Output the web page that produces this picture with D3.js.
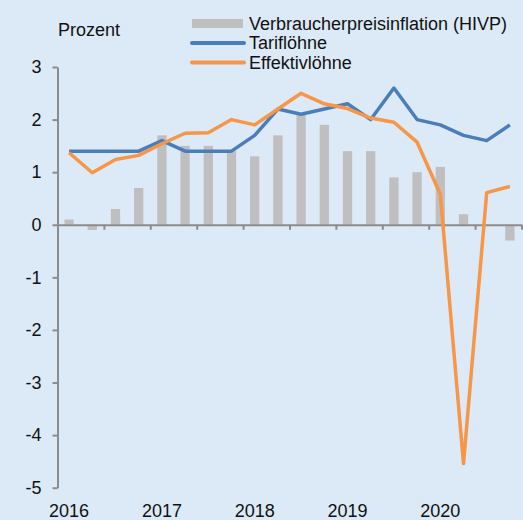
<!DOCTYPE html>
<html>
<head>
<meta charset="utf-8">
<script src="https://cdn.jsdelivr.net/npm/d3@7"></script>
<style>
  html, body { margin: 0; padding: 0; background: #dce9f7; }
  svg { display: block; font-family: "Liberation Sans", Arial, sans-serif; }
</style>
</head>
<body>
<div id="chart"></div>
<script>
// Quartale 2016 Q1 bis 2020 Q4
let quarters = ["2016Q1","2016Q2","2016Q3","2016Q4","2017Q1","2017Q2","2017Q3","2017Q4",
                "2018Q1","2018Q2","2018Q3","2018Q4","2019Q1","2019Q2","2019Q3","2019Q4",
                "2020Q1","2020Q2","2020Q3","2020Q4"]
let yearLabels = ["2016","2017","2018","2019","2020"]
let yTicks = [3, 2, 1, 0, -1, -2, -3, -4, -5]

let hivp = [0.1, -0.1, 0.3, 0.7, 1.7, 1.5, 1.5, 1.4, 1.3, 1.7, 2.1, 1.9,
            1.4, 1.4, 0.9, 1.0, 1.1, 0.2, 0.0, -0.3]
let tarif = [1.4, 1.4, 1.4, 1.4, 1.6, 1.4, 1.4, 1.4, 1.7, 2.2, 2.1, 2.2,
             2.3, 2.0, 2.6, 2.0, 1.9, 1.7, 1.6, 1.9]
let effektiv = [1.37, 0.99, 1.24, 1.32, 1.54, 1.74, 1.75, 2.0, 1.9, 2.2, 2.5, 2.3,
                2.21, 2.03, 1.95, 1.57, 0.58, -4.54, 0.61, 0.73]

let legendItems = [
  {name: "Verbraucherpreisinflation (HIVP)", type: "bar", color: "#bfbfbf"},
  {name: "Tariflöhne", type: "line", color: "#4a7ebb"},
  {name: "Effektivlöhne", type: "line", color: "#f79646"}
]

let width = 523, height = 520

let svg = d3.select("#chart").append("svg")
  .attr("width", width)
  .attr("height", height)

svg.append("rect").attr("width", width).attr("height", height).attr("fill", "#dce9f7")

let x = d3.scaleBand().domain(quarters).range([57.5, 521.5])
let xIdx = d3.scaleLinear().domain([0, 20]).range([57.5, 521.5])
let y = d3.scaleLinear().domain([-5, 3]).range([487.7, 67])

// Balken HIVP
svg.selectAll("rect.bar")
  .data(quarters)
  .enter()
  .append("rect")
  .attr("class", "bar")
  .attr("x", (d) => x(d) + x.bandwidth() * 0.3)
  .attr("width", x.bandwidth() * 0.4)
  .attr("y", (d, i) => y(Math.max(0, hivp[i])))
  .attr("height", (d, i) => Math.abs(y(hivp[i]) - y(0)))
  .attr("fill", "#bfbfbf")

// Achsen
let axisColor = "#8c8c8c"

let gY = svg.append("g")
  .attr("transform", "translate(57.5,0)")
  .call(d3.axisLeft(y).tickValues(yTicks).tickSize(5).tickSizeOuter(0).tickPadding(11).tickFormat(d3.format("d")))
gY.selectAll("path, line").style("stroke", axisColor).style("stroke-width", 2)
gY.selectAll("text").style("fill", "#111").style("font-size", "18px")
  .text((d) => String(d))

let gX = svg.append("g")
  .attr("transform", "translate(0," + y(0) + ")")
  .call(d3.axisBottom(xIdx).tickValues([2,4,6,8,10,12,14,16,18,20]).tickSize(5).tickSizeOuter(0).tickFormat(""))
gX.selectAll("path, line").style("stroke", axisColor).style("stroke-width", 2)

// Jahreslabels
svg.selectAll("text.year")
  .data(yearLabels)
  .enter()
  .append("text")
  .attr("class", "year")
  .attr("x", (d) => x(d + "Q1") + x.bandwidth() / 2)
  .attr("y", 517)
  .attr("text-anchor", "middle")
  .attr("font-size", "18px")
  .attr("fill", "#111")
  .text((d) => d)

// Linien
let line = d3.line()
  .x((d, i) => x(quarters[i]) + x.bandwidth() / 2)
  .y((d) => y(d))

svg.append("path")
  .datum(tarif)
  .attr("d", line)
  .attr("fill", "none")
  .attr("stroke", "#4a7ebb")
  .attr("stroke-width", 3.5)
  .attr("stroke-linejoin", "round")

svg.append("path")
  .datum(effektiv)
  .attr("d", line)
  .attr("fill", "none")
  .attr("stroke", "#f79646")
  .attr("stroke-width", 3.5)
  .attr("stroke-linejoin", "round")

// Einheit
svg.append("text")
  .attr("x", 58)
  .attr("y", 36)
  .attr("font-size", "18px")
  .attr("fill", "#111")
  .text("Prozent")

// Legende
let legend = svg.selectAll("g.legend")
  .data(legendItems)
  .enter()
  .append("g")
  .attr("class", "legend")
  .attr("transform", (d, i) => "translate(0," + (i * 19.5) + ")")

legend.each(function (d) {
  let g = d3.select(this)
  if (d.type === "bar") {
    g.append("rect").attr("x", 192).attr("y", 19).attr("width", 51).attr("height", 9).attr("fill", d.color)
  } else {
    g.append("line").attr("x1", 192).attr("x2", 244).attr("y1", 23.5).attr("y2", 23.5)
      .attr("stroke", d.color).attr("stroke-width", 4).attr("stroke-linecap", "round")
  }
  g.append("text")
    .attr("x", 249)
    .attr("y", 29.5)
    .attr("font-size", "18px")
    .attr("fill", "#111")
    .text(d.name)
})
</script>
</body>
</html>
